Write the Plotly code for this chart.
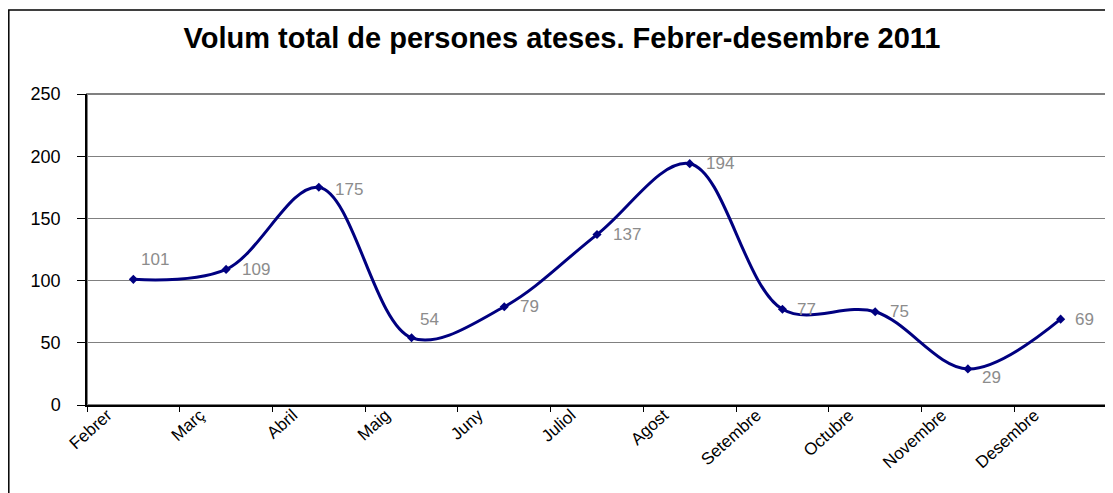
import plotly.graph_objects as go

months = ["Febrer", "Març", "Abril", "Maig", "Juny", "Juliol", "Agost",
          "Setembre", "Octubre", "Novembre", "Desembre"]
values = [101, 109, 175, 54, 79, 137, 194, 77, 75, 29, 69]
y_ticks = [0, 50, 100, 150, 200, 250]
title_text = "Volum total de persones ateses. Febrer-desembre 2011"

# label placement: (x shift px, y shift px)
label_shift = [(6, 20), (14, 0), (14, -2), (6, 18), (14, 0), (14, 0),
               (14, 0), (13, 0), (13, 0), (12, -9), (12, 0)]

n = len(months)
xpos = [i + 0.5 for i in range(n)]

OFF = 8  # page body margin
W, H = 1105, 485
L, T = 87 - OFF, 94 - OFF
pw, ph = 1020, 311
R = W - L - pw
B = H - T - ph

FONT = "Liberation Sans, Arial, sans-serif"

fig = go.Figure()
fig.add_trace(go.Scatter(
    x=xpos, y=values, mode="lines+markers",
    line=dict(color="#000080", width=3, shape="spline", smoothing=1),
    marker=dict(symbol="diamond", size=7, color="#000080"),
    hoverinfo="skip", showlegend=False,
))

annotations = []
for xv, v, (dx, dy) in zip(xpos, values, label_shift):
    annotations.append(dict(
        x=xv, y=v, xref="x", yref="y", text=str(v), showarrow=False,
        xanchor="left", yanchor="middle", xshift=dx, yshift=dy,
        font=dict(family=FONT, size=17, color="#8c8c8c"),
    ))

def px_to_paper_x(p):
    return (p - 87) / pw

def px_to_paper_y(p):
    return (405 - p) / ph

shapes = [
    # outer chart border
    dict(type="rect", xref="paper", yref="paper",
         x0=px_to_paper_x(8.8), x1=px_to_paper_x(1112),
         y0=px_to_paper_y(520), y1=px_to_paper_y(10),
         line=dict(color="black", width=1.5), fillcolor="rgba(0,0,0,0)", layer="below"),
    # plot area border
    dict(type="rect", xref="paper", yref="paper", x0=0, x1=1, y0=0, y1=1,
         line=dict(color="#808080", width=2), fillcolor="rgba(0,0,0,0)", layer="below"),
]

fig.update_layout(
    width=W, height=H,
    margin=dict(l=L, r=R, t=T, b=B, pad=0, autoexpand=False),
    paper_bgcolor="white", plot_bgcolor="white",
    title=dict(text="<b>" + title_text + "</b>", x=(562 - OFF) / W, xref="container",
               xanchor="center", y=1 - (38 - OFF) / H, yref="container", yanchor="middle",
               font=dict(family=FONT, size=29, color="black")),
    xaxis=dict(range=[0, n], tickmode="array", tickvals=list(range(n + 1)),
               ticktext=[""] * (n + 1), ticks="outside", ticklen=5, tickcolor="black",
               showline=True, linecolor="black", linewidth=1.5, showgrid=False,
               zeroline=False, fixedrange=True),
    xaxis2=dict(range=[0, n], overlaying="x", side="bottom", anchor="y",
                tickmode="array", tickvals=[i + 0.22 for i in range(n)], ticktext=months,
                tickangle=-42, ticks="", showline=False, showgrid=False, zeroline=False,
                ticklabelstandoff=-4,
                tickfont=dict(family=FONT, size=17, color="black")),
    yaxis=dict(range=[0, 250], tickmode="array", tickvals=y_ticks,
               ticks="outside", ticklen=8, tickcolor="black",
               showline=True, linecolor="black", linewidth=1.5,
               showgrid=True, gridcolor="#808080", gridwidth=1.2, zeroline=False,
               ticklabelstandoff=13,
               tickfont=dict(family=FONT, size=18, color="black")),
    annotations=annotations,
    shapes=shapes,
)

# invisible trace so xaxis2 renders its labels
fig.add_trace(go.Scatter(x=[0], y=[0], xaxis="x2", yaxis="y", mode="markers",
                         marker=dict(opacity=0), hoverinfo="skip", showlegend=False))

fig.write_html("out.html")
